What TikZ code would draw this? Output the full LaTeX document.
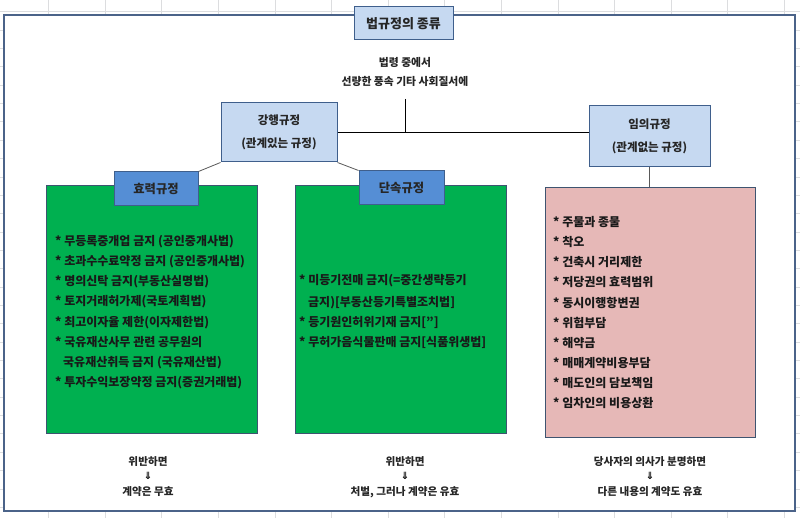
\documentclass[tikz,border=0pt]{standalone}
\usepackage{fontspec}
\setmainfont{Noto Sans CJK KR}
\newfontfamily\symfont{DejaVu Sans}
\definecolor{gridc}{HTML}{DCDDDF}
\definecolor{framec}{HTML}{4B6389}
\definecolor{lightblue}{HTML}{C6D9F1}
\definecolor{lbborder}{HTML}{3F5F8C}
\definecolor{midblue}{HTML}{558ED5}
\definecolor{greenc}{HTML}{00B050}
\definecolor{pinkc}{HTML}{E6B8B7}
\definecolor{boxborder}{HTML}{3E5470}
\tikzset{
  gridline/.style={draw=gridc, line width=0.6pt},
  outerframe/.style={draw=framec, line width=1.8pt, fill=white, inner sep=0pt, minimum width=791pt, minimum height=496pt},
  lbbox/.style={draw=lbborder, line width=1pt, fill=lightblue, inner sep=0pt, align=center, font=\fontsize{11.5}{23}\selectfont\bfseries, text=black!85},
  tabbox/.style={draw=lbborder, line width=1pt, fill=midblue, inner sep=0pt, font=\fontsize{12.3}{14}\selectfont\bfseries, text=black!85},
  listbox/.style={draw=boxborder, line width=1pt, inner sep=0pt},
  itemtxt/.style={anchor=base west, inner sep=0pt, font=\fontsize{12}{14}\selectfont\bfseries, text=black!90},
  plaintxt/.style={inner sep=0pt, font=\fontsize{10.6}{14}\selectfont\bfseries, text=black!85},
  arrowtxt/.style={inner sep=0pt, font=\symfont\fontsize{10}{12}\selectfont\bfseries},
  conn/.style={draw=black, line width=0.8pt},
  conng/.style={draw=black!65, line width=0.8pt}
}
\begin{document}
\begin{tikzpicture}[x=1pt,y=-1pt]
\useasboundingbox (0,0) rectangle (800,518);
% spreadsheet grid
\foreach \gx in {0,...,13} \draw[gridline] ({48.5+56.6*\gx},0) -- ({48.5+56.6*\gx},518);
\foreach \gy in {0,...,27} \draw[gridline] (0,{11.7+18.35*\gy}) -- (800,{11.7+18.35*\gy});
% outer frame
\node[outerframe] (outer) at (399.5,263) {};
% title
\node[lbbox, minimum width=99pt, minimum height=33pt, font=\fontsize{13}{15}\selectfont\bfseries] (title) at (403.5,23.5) {법규정의 종류};
% intro text
\node[plaintxt, align=center, font=\fontsize{10.8}{19}\selectfont\bfseries] (intro) at (405,72) {법령 중에서\\선량한 풍속 기타 사회질서에};
\coordinate (stem) at (405,99);
% second level
\node[lbbox, minimum width=116pt, minimum height=59pt] (gang) at (279,132.5) {강행규정\\(관계있는 규정)};
\node[lbbox, minimum width=121pt, minimum height=61pt] (imui) at (649.5,136.5) {임의규정\\(관계없는 규정)};
\draw[conn] (gang.east) -- (gang.east -| imui.west);
\draw[conn] (stem) -- (stem |- gang.east);
% lists
\node[listbox, fill=greenc, minimum width=211pt, minimum height=247pt] (hyobox) at (151.5,309.5) {};
\node[listbox, fill=greenc, minimum width=211pt, minimum height=247pt] (danbox) at (400.5,309.5) {};
\node[listbox, fill=pinkc, minimum width=210pt, minimum height=249pt] (pinkbox) at (650,312.5) {};
\node[tabbox, minimum width=84pt, minimum height=34pt] (hyo) at (156,189) {효력규정};
\node[tabbox, minimum width=85pt, minimum height=34pt] (dan) at (401.5,188) {단속규정};
\draw[conng] (gang.south west) -- (hyo.north east);
\draw[conng] (gang.south east) -- (dan.north west);
\draw[conng] (imui.south) -- (imui.south |- pinkbox.north);
% left list
\node[itemtxt] (a1) at (55,245.5) {* 무등록중개업 금지 (공인중개사법)};
\node[itemtxt] (a2) at (55,265.5) {* 초과수수료약정 금지 (공인중개사법)};
\node[itemtxt] (a3) at (55,285.5) {* 명의신탁 금지(부동산실명법)};
\node[itemtxt] (a4) at (55,305.5) {* 토지거래허가제(국토계획법)};
\node[itemtxt] (a5) at (55,326.5) {* 최고이자율 제한(이자제한법)};
\node[itemtxt] (a6) at (55,346.5) {* 국유재산사무 관련 공무원의};
\node[itemtxt] (a7) at (63,366.5) {국유재산취득 금지 (국유재산법)};
\node[itemtxt] (a8) at (55,386.5) {* 투자수익보장약정 금지(증권거래법)};
% middle list
\node[itemtxt] (b1) at (299,284.5) {* 미등기전매 금지(=중간생략등기};
\node[itemtxt] (b2) at (308,306.5) {금지)[부동산등기특별조치법]};
\node[itemtxt] (b3) at (299,326.5) {* 등기원인허위기재 금지["]};
\node[itemtxt] (b4) at (299,346.5) {* 무허가음식물판매 금지[식품위생법]};
% right list
\node[itemtxt] (c1) at (553,226.5) {* 주물과 종물};
\node[itemtxt] (c2) at (553,246.5) {* 착오};
\node[itemtxt] (c3) at (553,266.5) {* 건축시 거리제한};
\node[itemtxt] (c4) at (553,286.5) {* 저당권의 효력범위};
\node[itemtxt] (c5) at (553,307.5) {* 동시이행항변권};
\node[itemtxt] (c6) at (553,327.5) {* 위험부담};
\node[itemtxt] (c7) at (553,347.5) {* 해약금};
\node[itemtxt] (c8) at (553,367.5) {* 매매계약비용부담};
\node[itemtxt] (c9) at (553,387.5) {* 매도인의 담보책임};
\node[itemtxt] (c10) at (553,407.5) {* 임차인의 비용상환};
% bottom notes
\node[plaintxt] (n1a) at (148,462) {위반하면};
\node[arrowtxt] (n1b) at (148,476) {⇓};
\node[plaintxt] (n1c) at (148,492) {계약은 무효};
\node[plaintxt] (n2a) at (405,462) {위반하면};
\node[arrowtxt] (n2b) at (405,476) {⇓};
\node[plaintxt] (n2c) at (405,492) {처벌, 그러나 계약은 유효};
\node[plaintxt] (n3a) at (650,462) {당사자의 의사가 분명하면};
\node[arrowtxt] (n3b) at (650,476) {⇓};
\node[plaintxt] (n3c) at (650,492) {다른 내용의 계약도 유효};
\end{tikzpicture}
\end{document}
